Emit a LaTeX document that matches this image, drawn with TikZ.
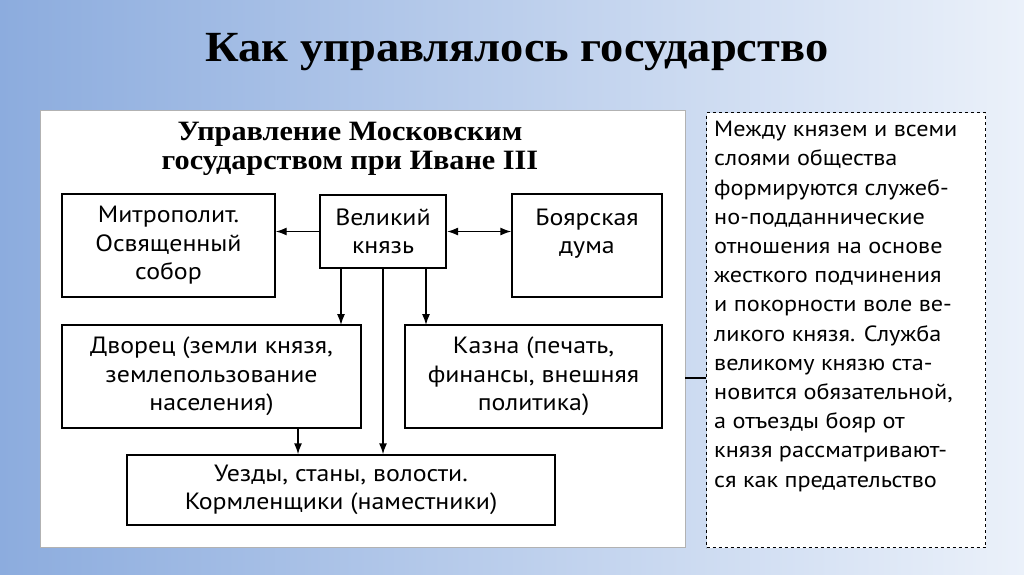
\documentclass[tikz,border=0pt]{standalone}
\usepackage{fontspec}
\usetikzlibrary{arrows.meta}
\setmainfont{Liberation Serif}
\newfontfamily\bx{PT Sans}[FakeStretch=1.1]
\newfontfamily\ttl{Liberation Serif}[FakeStretch=1.08]
\begin{document}
\begin{tikzpicture}[x=1pt,y=-1pt,
 box/.style={draw,line width=1.4pt,fill=white,align=center,font=\bx\fontsize{23.5}{28.5}\selectfont,inner sep=0pt},
 arr/.style={-{Latex[length=11pt,width=8pt]},line width=1.4pt}]
\shade[left color={rgb,255:red,140;green,172;blue,222},right color={rgb,255:red,235;green,241;blue,250}] (0,0) rectangle (1024,574);
\useasboundingbox (0,0) rectangle (1024,574);
\node[font=\ttl\bfseries\fontsize{43}{48}\selectfont] (title) at (517,52) {Как управлялось государство};
\node[draw=gray!60,fill=white,minimum width=645,minimum height=437,anchor=north west,inner sep=0] (panel) at (40,110) {};
\node[draw,dashed,line width=1.4pt,fill=white,minimum width=279,minimum height=435,anchor=north west,inner sep=0] (note) at (706,112) {};
\node[align=center,font=\ttl\bfseries\fontsize{28}{29}\selectfont] (ptitle) at (350,149) {Управление Московским\\государством при Иване III};
\node[box,minimum width=213,minimum height=103] (m) at (168.5,245.5) {Митрополит.\\Освященный\\собор};
\node[box,line width=2.2pt,minimum width=126,minimum height=73] (v) at (383,231.5) {Великий\\князь};
\node[box,minimum width=150,minimum height=103] (b) at (587,245.5) {Боярская\\дума\\\mbox{}};
\node[box,minimum width=299,minimum height=103] (d) at (211.5,376.5) {Дворец (земли князя,\\землепользование\\населения)};
\node[box,minimum width=257,minimum height=103] (k) at (533.5,376.5) {Казна (печать,\\финансы, внешняя\\политика)};
\node[box,minimum width=428,minimum height=70] (u) at (341,490) {Уезды, станы, волости.\\Кормленщики (наместники)};
\draw[arr] (v.west) -- (m.east|-v.west);
\draw[arr,{Latex[length=11pt,width=8pt]}-{Latex[length=11pt,width=8pt]}] (v.east) -- (b.west|-v.east);
\draw[arr] (341,268) -- (341,325);
\draw[arr] (426,268) -- (426,325);
\draw[arr] (383,268) -- (u.north-|383,0);
\draw[arr] (d.south-|298,0) -- (u.north-|298,0);
\draw[line width=1.2pt] (panel.east|-0,378) -- (note.west|-0,378);
\node[align=left,anchor=north west,inner sep=0,font=\bx\fontsize{22}{29.2}\selectfont] (nt) at (714,121) {Между князем и всеми\\слоями общества\\формируются служеб-\\но-подданнические\\отношения на основе\\жесткого подчинения\\и покорности воле ве-\\ликого князя. Служба\\великому князю ста-\\новится обязательной,\\а отъезды бояр от\\князя рассматривают-\\ся как предательство};
\end{tikzpicture}
\end{document}
